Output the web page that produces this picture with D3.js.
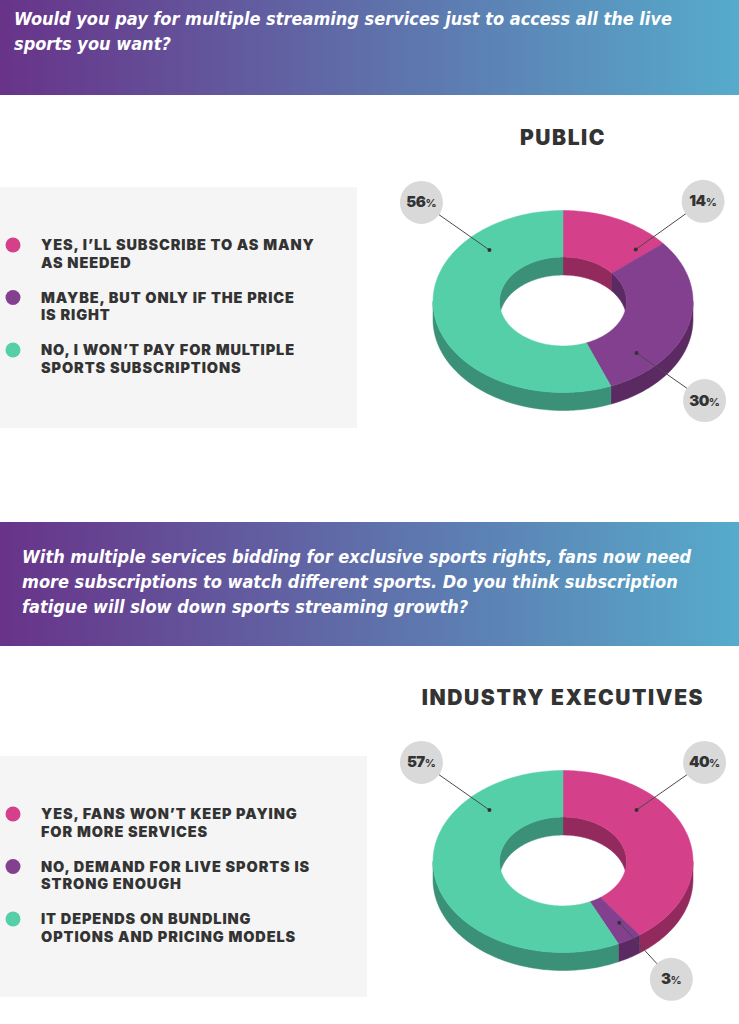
<!DOCTYPE html>
<html>
<head>
<meta charset="utf-8">
<script src="https://cdn.jsdelivr.net/npm/d3@7"></script>
<style>
  html, body { margin: 0; padding: 0; background: #fff; }
  svg { display: block; }
</style>
</head>
<body>
<script>
// survey answers, top panel
const publicQuestion = [
  'Would you pay for multiple streaming services just to access all the live',
  'sports you want?'
];
const publicTitle = 'PUBLIC';
const publicAnswers = [
  ['YES, I\u2019LL SUBSCRIBE TO AS MANY', 'AS NEEDED'],
  ['MAYBE, BUT ONLY IF THE PRICE', 'IS RIGHT'],
  ['NO, I WON\u2019T PAY FOR MULTIPLE', 'SPORTS SUBSCRIPTIONS']
];
const publicValues = [14, 30, 56];

// survey answers, bottom panel
const execQuestion = [
  'With multiple services bidding for exclusive sports rights, fans now need',
  'more subscriptions to watch different sports. Do you think subscription',
  'fatigue will slow down sports streaming growth?'
];
const execTitle = 'INDUSTRY EXECUTIVES';
const execAnswers = [
  ['YES, FANS WON\u2019T KEEP PAYING', 'FOR MORE SERVICES'],
  ['NO, DEMAND FOR LIVE SPORTS IS', 'STRONG ENOUGH'],
  ['IT DEPENDS ON BUNDLING', 'OPTIONS AND PRICING MODELS']
];
const execValues = [40, 3, 57];

const topColors = ['#d5408a', '#82408f', '#54cfa8'];
const sideColors = ['#922a5e', '#5b2a62', '#3a9177'];

const W = 739, H = 1024;
const heavyFont = 'Inter, "Open Sans", sans-serif';
const bannerFont = '"DejaVu Sans Condensed", "DejaVu Sans", sans-serif';

const svg = d3.select('body').append('svg')
  .attr('width', W)
  .attr('height', H);

const grad = svg.append('defs').append('linearGradient')
  .attr('id', 'banner-grad')
  .attr('x1', 0).attr('x2', 1).attr('y1', 0).attr('y2', 0);
grad.append('stop').attr('offset', 0).attr('stop-color', '#683389');
grad.append('stop').attr('offset', 1).attr('stop-color', '#56abcb');

function drawBanner(lines, y, h, textX, firstLine) {
  svg.append('rect')
    .attr('x', 0).attr('y', y)
    .attr('width', W).attr('height', h)
    .attr('fill', 'url(#banner-grad)');
  svg.append('g').selectAll('text')
    .data(lines)
    .join('text')
    .attr('x', textX)
    .attr('y', (d, i) => y + firstLine + i * 25)
    .attr('fill', '#fff')
    .attr('font-family', bannerFont)
    .attr('font-style', 'italic')
    .attr('font-weight', 'bold')
    .attr('font-size', 18)
    .text(d => d);
}

function drawLegend(answers, box) {
  const g = svg.append('g');
  g.append('rect')
    .attr('x', 0).attr('y', box.y)
    .attr('width', box.w).attr('height', box.h)
    .attr('fill', '#f5f5f5');
  const item = g.selectAll('g.item')
    .data(answers)
    .join('g')
    .attr('class', 'item')
    .attr('transform', (d, i) => `translate(0,${box.y + 58 + i * 52.5})`);
  item.append('circle')
    .attr('cx', 13).attr('cy', 0).attr('r', 7.5)
    .attr('fill', (d, i) => topColors[i]);
  item.append('text')
    .attr('font-family', heavyFont)
    .attr('font-weight', 900)
    .attr('font-size', 14.5)
    .attr('letter-spacing', 0.9)
    .attr('fill', '#333')
    .selectAll('tspan')
    .data(d => d)
    .join('tspan')
    .attr('x', 41)
    .attr('y', (d, i) => 5 + i * 17.5)
    .text(d => d);
}

function drawDonut(values, cx, cy, title) {
  const R = 130, Ri = 63.5, k = 0.70, depth = 18;
  const g = svg.append('g');

  g.append('text')
    .attr('x', cx).attr('y', cy - 157)
    .attr('text-anchor', 'middle')
    .attr('font-family', heavyFont)
    .attr('font-weight', 900)
    .attr('font-size', 21)
    .attr('letter-spacing', 1.6)
    .attr('fill', '#333')
    .text(title);

  const pie = d3.pie().sort(null).value(d => d);
  const arcs = pie(values);

  const pt = (a, r, dy) => [cx + r * Math.sin(a), cy - r * k * Math.cos(a) + dy];
  const arcPts = (a0, a1, r, dy) => {
    const n = Math.max(2, Math.ceil(Math.abs(a1 - a0) / 0.02));
    return d3.range(n + 1).map(i => pt(a0 + (a1 - a0) * i / n, r, dy));
  };
  const line = d3.line();
  const clip = (a0, a1, lo, hi) => {
    const s = Math.max(a0, lo), e = Math.min(a1, hi);
    return s < e ? [s, e] : null;
  };
  const wall = (s, e, r) =>
    line(arcPts(s, e, r, 0).concat(arcPts(e, s, r, depth))) + 'Z';

  // outer walls, front half only
  arcs.forEach((d, i) => {
    const c = clip(d.startAngle, d.endAngle, Math.PI / 2, Math.PI * 1.5);
    if (c) g.append('path').attr('d', wall(c[0], c[1], R))
      .attr('fill', sideColors[i]).attr('stroke', sideColors[i]).attr('stroke-width', 0.5);
  });

  // inner walls, back half of the hole
  arcs.forEach((d, i) => {
    [[0, Math.PI / 2], [Math.PI * 1.5, Math.PI * 2]].forEach(([lo, hi]) => {
      const c = clip(d.startAngle, d.endAngle, lo, hi);
      if (c) g.append('path').attr('d', wall(c[0], c[1], Ri))
        .attr('fill', sideColors[i]).attr('stroke', sideColors[i]).attr('stroke-width', 0.5);
    });
  });

  // top faces
  g.selectAll('path.top')
    .data(arcs)
    .join('path')
    .attr('class', 'top')
    .attr('d', d => line(arcPts(d.startAngle, d.endAngle, R, 0)
      .concat(arcPts(d.endAngle, d.startAngle, Ri, 0))) + 'Z')
    .attr('fill', (d, i) => topColors[i])
    .attr('stroke', (d, i) => topColors[i])
    .attr('stroke-width', 0.5);

  // callouts: sit on the diagonal nearest the slice middle, kept inside the slice
  const diagonals = [45, 135, 315].map(a => a * Math.PI / 180);
  arcs.forEach(d => {
    const mid = (d.startAngle + d.endAngle) / 2;
    const pad = Math.min(6 * Math.PI / 180, (d.endAngle - d.startAngle) * 0.3);
    let a = diagonals.reduce((best, v) => Math.abs(v - mid) < Math.abs(best - mid) ? v : best);
    a = Math.max(d.startAngle + pad, Math.min(d.endAngle - pad, a));
    const dot = pt(a, R * 0.8, 0);
    const lab = pt(a, R * 1.54, 0);
    const ang = Math.atan2(dot[1] - lab[1], dot[0] - lab[0]);
    g.append('line')
      .attr('x1', lab[0] + 21 * Math.cos(ang)).attr('y1', lab[1] + 21 * Math.sin(ang))
      .attr('x2', dot[0]).attr('y2', dot[1])
      .attr('stroke', '#4a4a4a').attr('stroke-width', 1);
    g.append('circle')
      .attr('cx', dot[0]).attr('cy', dot[1]).attr('r', 2)
      .attr('fill', '#333');
    g.append('circle')
      .attr('cx', lab[0]).attr('cy', lab[1]).attr('r', 21.5)
      .attr('fill', '#d9d9d9');
    const t = g.append('text')
      .attr('x', lab[0]).attr('y', lab[1] + 5)
      .attr('text-anchor', 'middle')
      .attr('font-family', heavyFont)
      .attr('font-weight', 900)
      .attr('fill', '#333');
    t.append('tspan').attr('font-size', 15).attr('letter-spacing', -0.5).text(d.data);
    t.append('tspan').attr('font-size', 11).attr('font-weight', 700).text('%');
  });
}

drawBanner(publicQuestion, 0, 95, 14, 25);
drawLegend(publicAnswers, { y: 187, w: 357, h: 241 });
drawDonut(publicValues, 563, 301.5, publicTitle);

drawBanner(execQuestion, 522, 124, 22, 41);
drawLegend(execAnswers, { y: 756, w: 367, h: 241 });
drawDonut(execValues, 563, 861.5, execTitle);
</script>
</body>
</html>
